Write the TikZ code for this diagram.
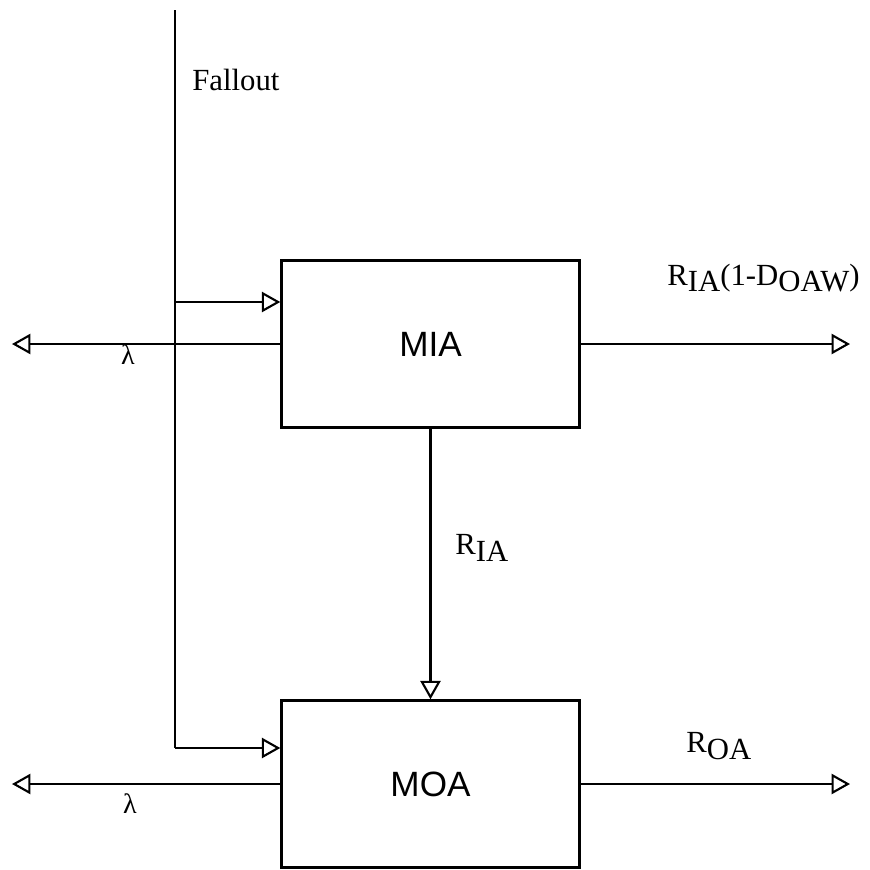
\documentclass[tikz,border=0pt]{standalone}
\usepackage{fontspec}
\setmainfont{Liberation Serif}
\newfontfamily\boxfont{Liberation Sans}
\usetikzlibrary{arrows.meta,positioning,calc}

\newcommand{\lowsub}[1]{\raisebox{-3.8pt}{#1}}

\tikzset{
  flow/.style={line width=1.4pt, -{Triangle[open, length=10.5pt, width=11.5pt, line width=1.2pt]}},
  plain/.style={line width=1.4pt},
  modbox/.style={draw, line width=1.4pt, minimum width=5.96cm, minimum height=3.34cm, font=\boxfont\fontsize{20}{24}\selectfont},
  lbl/.style={font=\fontsize{17.5}{21}\selectfont, inner sep=0pt}
}

\begin{document}
\begin{tikzpicture}[x=0.02cm, y=-0.02cm]
\useasboundingbox (0,0) rectangle (870,870);

% the two modules
\node[modbox] (mia) at (430.5,344) {MIA};
\node[modbox] (moa) at (430.5,784) {MOA};

% fallout feed
\coordinate (falltop) at (175,10);
\coordinate (fallbend) at (175,748);
\coordinate (fallsplit) at (175,302);
\draw[plain] (falltop) -- (fallbend);
\draw[flow] (fallbend) -- (moa.west |- fallbend);
\draw[flow] (fallsplit) -- (mia.west |- fallsplit);
\node[lbl, anchor=west] (fallout) at (192,80) {Fallout};

% decay losses
\coordinate (lossia) at (12,344);
\coordinate (lossoa) at (12,784);
\draw[flow] (mia.west) -- (lossia);
\draw[flow] (moa.west) -- (lossoa);
\node[lbl, font=\fontsize{16}{18}\selectfont] (lamia) at (128,355) {λ};
\node[lbl, font=\fontsize{16}{18}\selectfont] (lamoa) at (130,804) {λ};

% outputs
\coordinate (outia) at (850,344);
\coordinate (outoa) at (850,784);
\draw[flow] (mia.east) -- (outia);
\draw[flow] (moa.east) -- (outoa);
\draw[flow] (mia.south) -- (moa.north);

\node[lbl, anchor=west] (ria) at (455,548) {R\lowsub{IA}};
\node[lbl, anchor=west] (riaout) at (667,278) {R\lowsub{IA}(1-D\lowsub{OAW})};
\node[lbl, anchor=west] (roa) at (686,746) {R\lowsub{OA}};
\end{tikzpicture}
\end{document}
